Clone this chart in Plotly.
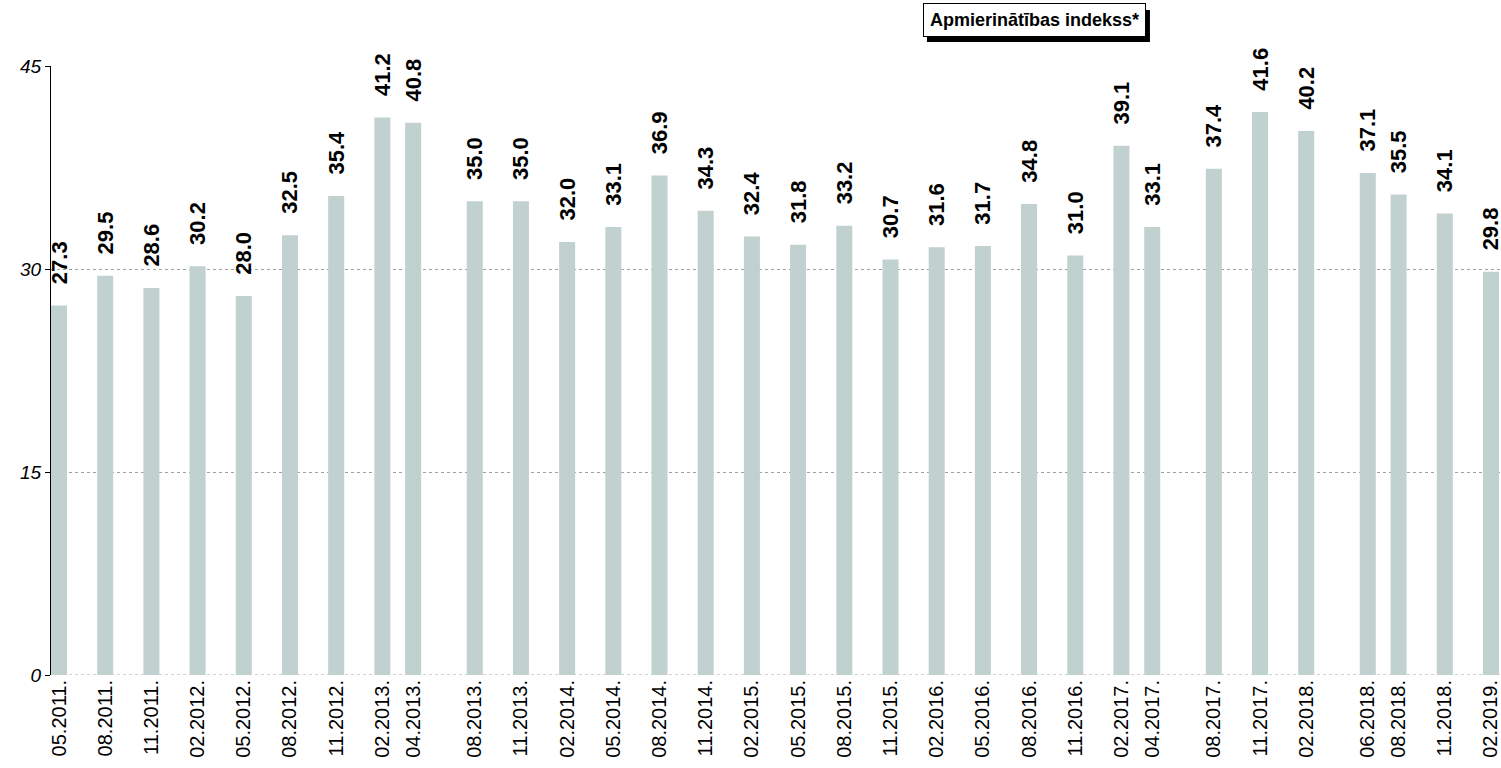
import plotly.graph_objects as go

periods = ["05.2011.", "08.2011.", "11.2011.", "02.2012.", "05.2012.", "08.2012.", "11.2012.",
           "02.2013.", "04.2013.", "08.2013.", "11.2013.", "02.2014.", "05.2014.", "08.2014.",
           "11.2014.", "02.2015.", "05.2015.", "08.2015.", "11.2015.", "02.2016.", "05.2016.",
           "08.2016.", "11.2016.", "02.2017.", "04.2017.", "08.2017.", "11.2017.", "02.2018.",
           "06.2018.", "08.2018.", "11.2018.", "02.2019."]
index = [27.3, 29.5, 28.6, 30.2, 28.0, 32.5, 35.4, 41.2, 40.8, 35.0, 35.0, 32.0, 33.1, 36.9,
         34.3, 32.4, 31.8, 33.2, 30.7, 31.6, 31.7, 34.8, 31.0, 39.1, 33.1, 37.4, 41.6, 40.2,
         37.1, 35.5, 34.1, 29.8]
y_ticks = [0, 15, 30, 45]

# bars sit on a month scale, so the survey gaps show up
def month_no(label):
    m, y = label.strip(".").split(".")
    return int(y) * 12 + int(m)

start = month_no(periods[0])
x = [month_no(p) - start for p in periods]

fig = go.Figure()
fig.add_trace(go.Bar(
    x=x, y=index, width=1.04,
    marker=dict(color="#c1d1cf", line=dict(width=0)),
    # nbsp padding keeps the gap between bar top and rotated label
    text=["\u00a0\u00a0\u00a0" + f"{v:.1f}" for v in index],
    textposition="outside", textangle=-90, constraintext="none", cliponaxis=False,
    textfont=dict(family="Liberation Sans, Arial", size=22, color="black", weight="bold"),
    hoverinfo="skip",
))

# dotted baseline at 0
fig.add_shape(type="line", xref="paper", yref="y", x0=0, x1=1, y0=0, y1=0,
              line=dict(color="#a0a0a0", width=1, dash="dot"), layer="below")

fig.update_layout(
    width=1501, height=768,
    margin=dict(l=51, r=0, t=66, b=93),
    plot_bgcolor="white", paper_bgcolor="white",
    showlegend=False,
    font=dict(family="Liberation Sans, Arial", color="black"),
)
fig.update_xaxes(
    range=[-0.52, 93.65],
    tickvals=x, ticktext=periods, tickangle=-90, ticklabeloverflow="allow",
    tickfont=dict(size=20, color="black"),
    showgrid=False, showline=False, zeroline=False, ticks="",
)
fig.update_yaxes(
    range=[0, 45], tickvals=y_ticks,
    tickfont=dict(size=19, color="black", style="italic"),
    showgrid=True, gridcolor="#a0a0a0", griddash="dot", gridwidth=1,
    zeroline=False, showline=True, linecolor="black", linewidth=1,
    ticks="outside", ticklen=5, tickcolor="black",
)

# legend-style title box with a drop shadow
fig.add_shape(type="rect", xref="paper", yref="paper", x0=0.6041, x1=0.7579, y0=1.0394, y1=1.0920,
              fillcolor="black", line=dict(width=0), layer="above")
fig.add_annotation(xref="paper", yref="paper", x=0.6785, y=1.0755, xanchor="center", yanchor="middle",
                   text="Apmierinātības indekss*", showarrow=False,
                   font=dict(size=18, color="black", weight="bold"),
                   bgcolor="white", bordercolor="black", borderwidth=1, borderpad=6)

fig.write_html("out.html", config={"displayModeBar": False},
               post_script="document.body.style.margin='0';")
